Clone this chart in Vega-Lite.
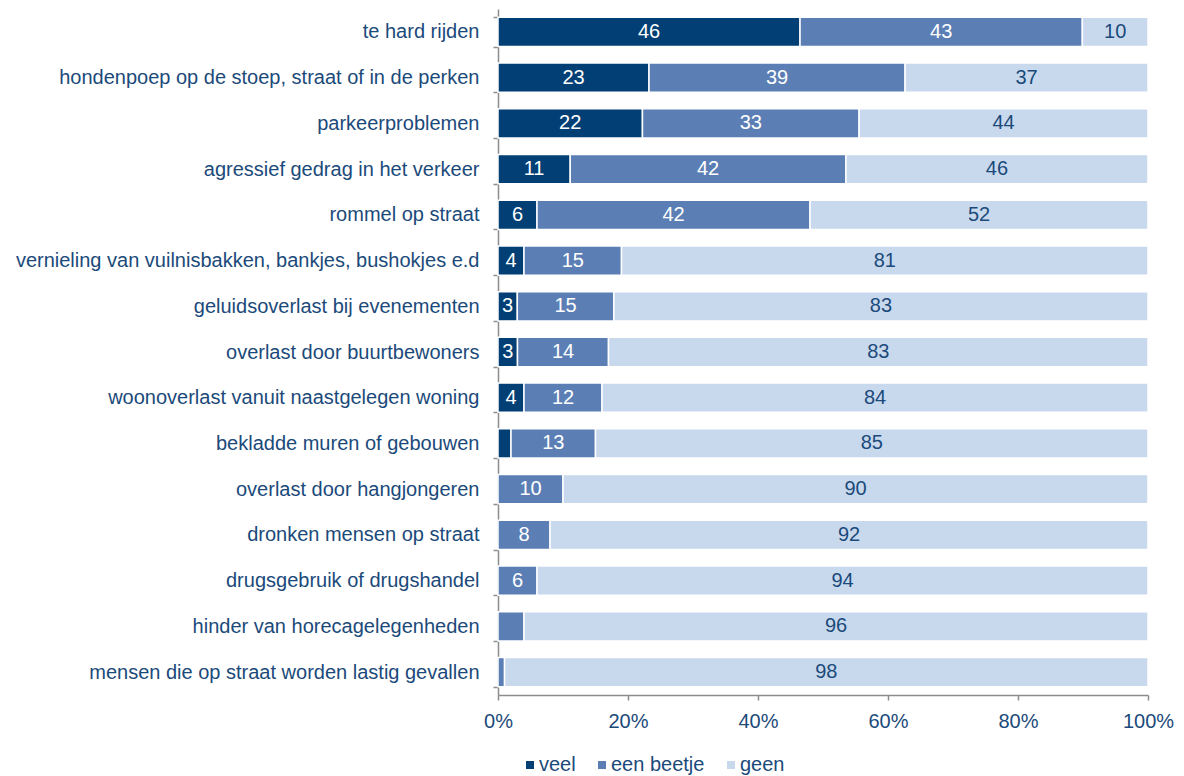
{
  "$schema": "https://vega.github.io/schema/vega-lite/v6.json",
  "width": 650,
  "height": 686,
  "autosize": "none",
  "padding": {"left": 498, "top": 9, "right": 36, "bottom": 81},
  "background": "white",
  "config": {
    "font": "Liberation Sans",
    "view": {"stroke": null}
  },
  "data": {
    "values": [
      {"item": "te hard rijden", "cat": "veel", "ord": 1, "value": 46, "show": true},
      {"item": "te hard rijden", "cat": "een beetje", "ord": 2, "value": 43, "show": true},
      {"item": "te hard rijden", "cat": "geen", "ord": 3, "value": 10, "show": true},
      {"item": "hondenpoep op de stoep, straat of in de perken", "cat": "veel", "ord": 1, "value": 23, "show": true},
      {"item": "hondenpoep op de stoep, straat of in de perken", "cat": "een beetje", "ord": 2, "value": 39, "show": true},
      {"item": "hondenpoep op de stoep, straat of in de perken", "cat": "geen", "ord": 3, "value": 37, "show": true},
      {"item": "parkeerproblemen", "cat": "veel", "ord": 1, "value": 22, "show": true},
      {"item": "parkeerproblemen", "cat": "een beetje", "ord": 2, "value": 33, "show": true},
      {"item": "parkeerproblemen", "cat": "geen", "ord": 3, "value": 44, "show": true},
      {"item": "agressief gedrag in het verkeer", "cat": "veel", "ord": 1, "value": 11, "show": true},
      {"item": "agressief gedrag in het verkeer", "cat": "een beetje", "ord": 2, "value": 42, "show": true},
      {"item": "agressief gedrag in het verkeer", "cat": "geen", "ord": 3, "value": 46, "show": true},
      {"item": "rommel op straat", "cat": "veel", "ord": 1, "value": 6, "show": true},
      {"item": "rommel op straat", "cat": "een beetje", "ord": 2, "value": 42, "show": true},
      {"item": "rommel op straat", "cat": "geen", "ord": 3, "value": 52, "show": true},
      {"item": "vernieling van vuilnisbakken, bankjes, bushokjes e.d", "cat": "veel", "ord": 1, "value": 4, "show": true},
      {"item": "vernieling van vuilnisbakken, bankjes, bushokjes e.d", "cat": "een beetje", "ord": 2, "value": 15, "show": true},
      {"item": "vernieling van vuilnisbakken, bankjes, bushokjes e.d", "cat": "geen", "ord": 3, "value": 81, "show": true},
      {"item": "geluidsoverlast bij evenementen", "cat": "veel", "ord": 1, "value": 3, "show": true},
      {"item": "geluidsoverlast bij evenementen", "cat": "een beetje", "ord": 2, "value": 15, "show": true},
      {"item": "geluidsoverlast bij evenementen", "cat": "geen", "ord": 3, "value": 83, "show": true},
      {"item": "overlast door buurtbewoners", "cat": "veel", "ord": 1, "value": 3, "show": true},
      {"item": "overlast door buurtbewoners", "cat": "een beetje", "ord": 2, "value": 14, "show": true},
      {"item": "overlast door buurtbewoners", "cat": "geen", "ord": 3, "value": 83, "show": true},
      {"item": "woonoverlast vanuit naastgelegen woning", "cat": "veel", "ord": 1, "value": 4, "show": true},
      {"item": "woonoverlast vanuit naastgelegen woning", "cat": "een beetje", "ord": 2, "value": 12, "show": true},
      {"item": "woonoverlast vanuit naastgelegen woning", "cat": "geen", "ord": 3, "value": 84, "show": true},
      {"item": "bekladde muren of gebouwen", "cat": "veel", "ord": 1, "value": 2, "show": false},
      {"item": "bekladde muren of gebouwen", "cat": "een beetje", "ord": 2, "value": 13, "show": true},
      {"item": "bekladde muren of gebouwen", "cat": "geen", "ord": 3, "value": 85, "show": true},
      {"item": "overlast door hangjongeren", "cat": "een beetje", "ord": 2, "value": 10, "show": true},
      {"item": "overlast door hangjongeren", "cat": "geen", "ord": 3, "value": 90, "show": true},
      {"item": "dronken mensen op straat", "cat": "een beetje", "ord": 2, "value": 8, "show": true},
      {"item": "dronken mensen op straat", "cat": "geen", "ord": 3, "value": 92, "show": true},
      {"item": "drugsgebruik of drugshandel", "cat": "een beetje", "ord": 2, "value": 6, "show": true},
      {"item": "drugsgebruik of drugshandel", "cat": "geen", "ord": 3, "value": 94, "show": true},
      {"item": "hinder van horecagelegenheden", "cat": "een beetje", "ord": 2, "value": 4, "show": false},
      {"item": "hinder van horecagelegenheden", "cat": "geen", "ord": 3, "value": 96, "show": true},
      {"item": "mensen die op straat worden lastig gevallen", "cat": "een beetje", "ord": 2, "value": 1, "show": false},
      {"item": "mensen die op straat worden lastig gevallen", "cat": "geen", "ord": 3, "value": 98, "show": true}
    ]
  },
  "encoding": {
    "y": {
      "field": "item",
      "type": "nominal",
      "sort": null,
      "scale": {"paddingInner": 0.36, "paddingOuter": 0.18},
      "axis": {
        "title": null,
        "labelFontSize": 20,
        "labelColor": "#1b4a7a",
        "labelPadding": 14,
        "labelLimit": 600,
        "tickBand": "extent",
        "tickSize": 5,
        "tickColor": "#8c8c8c",
        "domainColor": "#8c8c8c",
        "domainWidth": 1.5,
        "tickWidth": 1.5
      }
    }
  },
  "layer": [
    {
      "mark": {"type": "bar", "stroke": "white", "strokeWidth": 1.5},
      "encoding": {
        "x": {
          "field": "value",
          "type": "quantitative",
          "stack": "normalize",
          "scale": {"domain": [0, 1], "nice": false},
          "axis": {
            "title": null,
            "format": ".0%",
            "values": [0, 0.2, 0.4, 0.6, 0.8, 1],
            "grid": false,
            "labelFontSize": 20,
            "labelColor": "#1b4a7a",
            "labelPadding": 11,
            "labelFlush": false,
            "tickSize": 5,
            "tickColor": "#8c8c8c",
            "domainColor": "#8c8c8c",
            "domainWidth": 1.5,
            "tickWidth": 1.5
          }
        },
        "order": {"field": "ord", "type": "quantitative"},
        "color": {
          "field": "cat",
          "type": "nominal",
          "scale": {"domain": ["veel", "een beetje", "geen"], "range": ["#023f74", "#5b7fb5", "#c8d9ee"]},
          "legend": {
            "title": null,
            "orient": "none",
            "direction": "horizontal",
            "legendX": 22,
            "legendY": 746,
            "symbolType": "square",
            "symbolSize": 64,
            "symbolStrokeWidth": 0,
            "labelFontSize": 20,
            "labelColor": "#1b4a7a",
            "labelOffset": -1,
            "columnPadding": 16
          }
        }
      }
    },
    {
      "transform": [
        {"stack": "value", "groupby": ["item"], "sort": [{"field": "ord", "order": "ascending"}], "offset": "normalize", "as": ["x0", "x1"]},
        {"filter": "datum.show"},
        {"fold": ["x0", "x1"], "as": ["edge", "pos"]},
        {"aggregate": [{"op": "mean", "field": "pos", "as": "mid"}], "groupby": ["item", "cat", "value"]}
      ],
      "mark": {"type": "text", "fontSize": 20, "baseline": "middle", "align": "center"},
      "encoding": {
        "x": {"field": "mid", "type": "quantitative"},
        "text": {"field": "value", "type": "quantitative"},
        "color": {
          "condition": {"test": "datum.cat === 'geen'", "value": "#1b4a7a"},
          "value": "white"
        }
      }
    }
  ]
}
